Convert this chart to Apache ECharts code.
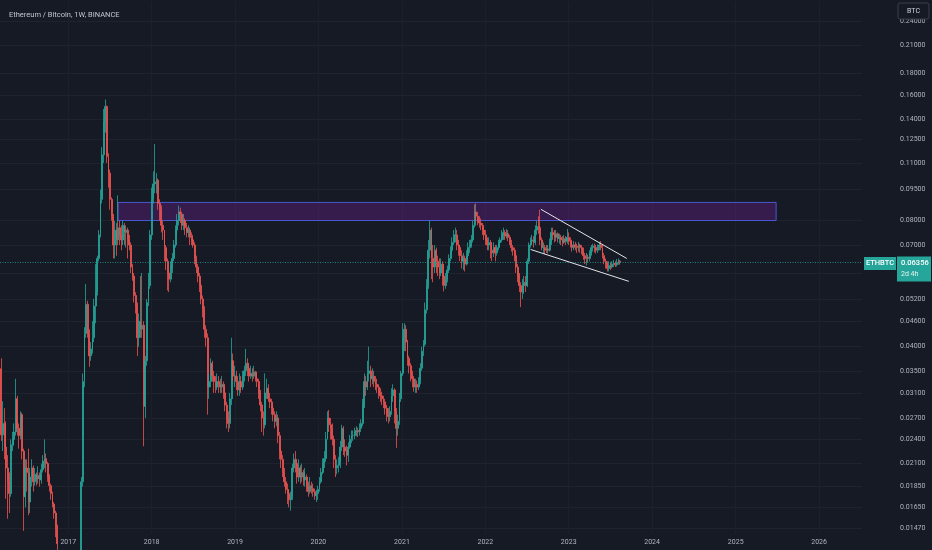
<!DOCTYPE html>
<html><head><meta charset="utf-8">
<script src="https://cdn.jsdelivr.net/npm/echarts@6/dist/echarts.min.js"></script>
<style>html,body{margin:0;padding:0;background:#161a25;}#c{width:932px;height:550px;}</style>
</head><body><div id="c"></div>
<script>
// Weekly ETH/BTC candles, values in units of 0.0001 BTC, first bar week of 2016-03-14
const firstWeek = '2016-03-14';
const firstOpen = 354;
const closes = [
  // 2016
  246,262,230,205,190,178,233,240,250,300, 255,245,275,225,175,205,200,170,195,205,
  190,198,193,197,192,203,213,216,210,195, 186,178,168,160,148,135,130,120,105,95, 88,82,
  // 2017
  100,105,108,110,112,118,125,128,190,330, 430,505,430,380,395,420,500,540,650,740,
  900,1150,1380,1500,1140,1040,900,820,700,760, 720,770,740,720,780,750,760,720,700,620,
  590,530,500,420,460,440,450,288,370,510, 560,740,
  // 2018
  900,980,990,1000,880,850,780,760,690,640, 600,580,620,650,700,760,800,840,830,780,
  800,770,750,760,730,720,700,650,620,590, 560,520,490,440,420,320,330,365,340,330,
  320,330,325,320,325,310,290,270,262,300, 370,340,
  // 2019
  340,330,315,330,320,340,350,365,355,340, 345,340,348,335,330,310,290,270,260,310,
  318,300,295,285,275,265,270,245,225,215, 200,190,182,178,172,175,205,215,210,195,
  205,195,200,192,195,185,180,186,183,180, 176,178,182,
  // 2020
  190,200,210,216,240,270,260,255,240,215, 205,208,210,230,255,230,225,220,230,240,
  245,245,250,252,250,255,262,290,330,320, 345,350,335,340,330,325,320,310,305,300,
  295,285,275,272,280,305,315,280,255,265, 300,345,
  // 2021
  420,440,410,375,360,345,335,320,325,320, 330,355,390,405,490,560,680,760,650,620,
  680,640,620,600,630,590,560,580,610,650, 680,710,740,740,700,690,660,640,650,630,
  660,690,700,720,780,840,820,800,790,780, 760,740,
  // 2022
  720,700,710,680,670,690,670,690,710,720, 740,750,735,745,730,710,690,680,660,620,
  590,560,540,560,570,560,640,700,715,720, 710,760,775,770,720,690,690,680,685,680,
  710,750,740,730,745,725,730,720,710,725, 715,730,
  // 2023
  715,700,690,700,695,690,700,690,680,660, 650,655,650,670,690,695,690,680,690,700,
  690,660,640,630,615,625,620,630,632,628, 635,640,635.6
];
const highs = [
  375,296,285,265,220,200,240,250,262,335, 305,262,280,278,228,215,215,228,205,215,
  208,205,200,207,200,210,220,240,222,212, 198,188,180,170,162,150,140,133,122,108, 98,92,
  104,110,112,114,116,122,130,133,195,345, 445,565,515,440,410,460,520,630,660,760,
  950,1200,1480,1560,1510,1160,1060,910,830,800, 790,920,800,780,800,790,780,770,740,710,
  630,600,540,510,480,590,600,460,380,520, 600,760,
  960,1050,1220,1040,1010,900,870,800,760,700, 650,610,640,670,720,780,830,870,860,840,
  830,810,790,780,770,750,740,710,660,630, 600,570,530,500,450,430,345,375,370,350,
  340,345,340,335,340,330,320,295,280,310, 420,385,
  360,350,340,345,340,350,360,395,375,360, 360,355,360,350,345,335,315,295,280,345,
  335,325,310,300,290,280,280,275,250,230, 220,205,195,188,182,180,210,222,225,212,
  215,208,210,203,205,198,190,195,190,188, 183,182,186,
  195,205,216,225,250,280,282,270,262,245, 220,215,218,238,260,258,240,232,236,246,
  252,252,256,258,256,262,268,300,345,340, 370,400,360,355,350,340,335,325,318,312,
  305,300,290,285,288,318,325,318,285,275, 310,350,
  455,455,450,415,380,365,350,340,335,332, 338,365,400,415,510,580,720,800,770,700,
  700,690,660,650,650,640,600,600,625,665, 695,730,760,770,760,720,700,680,670,660,
  680,710,720,740,800,875,880,840,820,810, 790,770,
  760,730,730,720,700,710,700,700,720,730, 760,770,760,765,760,740,720,700,690,670,
  630,600,570,580,590,590,650,710,730,740, 735,780,800,820,850,730,710,700,700,700,
  725,770,770,760,760,750,745,740,735,740, 735,765,
  750,730,720,715,712,705,712,705,700,690, 670,670,665,680,700,705,705,700,702,712,
  715,700,670,650,640,640,635,640,645,640, 648,650,645
];
const lows = [
  238,225,215,173,155,160,175,225,232,245, 245,228,240,215,145,165,180,158,160,185,
  180,186,186,188,185,188,200,205,200,190, 180,172,165,155,140,128,122,115,100,90, 82,78,
  80,96,102,105,106,110,115,120,126,185, 320,420,420,358,370,385,410,455,530,640,
  730,880,1100,1300,1100,960,850,800,650,650, 660,700,700,680,700,700,690,650,680,600,
  575,510,480,380,400,420,420,231,270,360, 500,550,
  720,880,930,930,850,800,750,720,640,610, 545,540,570,600,640,690,740,780,790,760,
  760,740,730,730,700,700,690,630,600,570, 540,505,470,420,400,275,300,320,330,310,
  310,315,310,310,310,300,280,255,250,255, 290,330,
  320,315,305,305,310,315,330,340,340,330, 335,330,335,330,320,300,280,250,245,255,
  300,295,285,275,265,255,258,235,215,205, 195,185,178,168,165,162,172,200,200,188,
  190,188,190,186,185,180,175,178,178,175, 172,170,172,
  180,188,198,205,212,240,250,240,232,205, 195,198,200,205,225,220,218,208,212,228,
  235,238,240,244,243,245,250,258,285,305, 315,330,320,325,320,315,310,300,295,290,
  285,275,265,262,265,275,295,262,229,245, 260,295,
  340,390,390,360,345,330,320,312,310,310, 315,325,350,380,400,480,550,650,580,570,
  600,600,590,580,590,560,542,550,570,600, 640,670,700,710,680,660,640,615,610,605,
  625,650,670,690,710,770,800,780,770,760, 740,720,
  700,680,680,650,640,655,640,660,680,695, 710,720,720,725,715,700,675,660,640,600,
  570,540,497,520,535,540,555,630,690,700, 690,700,740,745,700,680,670,665,670,668,
  675,700,720,710,715,710,705,700,695,705, 700,705,
  700,690,675,680,680,670,675,670,665,645, 630,625,635,640,660,675,672,668,670,680,
  680,650,630,615,605,605,610,615,620,620, 622,628,628
];
const priceTicks = [0.24,0.21,0.18,0.16,0.14,0.125,0.11,0.095,0.08,0.07,0.06,0.052,0.046,0.04,0.035,0.031,0.027,0.024,0.021,0.0185,0.0165,0.0147];
const yearTicks = ['2017','2018','2019','2020','2021','2022','2023','2024','2025','2026'];
const lastPrice = 0.06356;
const lastLabel = '2d 4h';
const symbolName = 'ETHBTC';
const zoneRange = ['2017-08-07', '2025-06-27'];
const zonePrices = [0.0801, 0.0885];
const wedgeUpper = [['2022-09-01', 0.0852], ['2023-09-12', 0.0650]];
const wedgeLower = [['2022-07-18', 0.0683], ['2023-09-21', 0.0573]];

const DAY = 86400000;
const ts = s => Date.parse(s + (s.length === 4 ? '-01-01' : '') + 'T00:00:00Z');
const t0 = ts(firstWeek);
const candles = closes.map((c, i) => {
  const o = i === 0 ? firstOpen : closes[i - 1];
  const h = Math.max(highs[i], o, c), l = Math.min(lows[i], o, c);
  return [t0 + i * 7 * DAY, o / 1e4, c / 1e4, l / 1e4, h / 1e4];
});
const yearTs = yearTicks.map(ts);
const X_MIN = Date.UTC(2016, 2, 8), X_MAX = Date.UTC(2026, 6, 8);
const FONT = 'Roboto, "Noto Sans", sans-serif';
const TXT = '#b2b5be';
const WHITE_LINE = {color: '#e4e4e8', type: 'solid', width: 1};

const chart = echarts.init(document.getElementById('c'), null, {renderer: 'canvas'});
chart.setOption({
  backgroundColor: '#161a25',
  animation: false,
  title: {text: 'Ethereum / Bitcoin, 1W, BINANCE', left: 4, top: 6,
    textStyle: {color: '#c3c6ce', fontSize: 7.5, fontWeight: 'normal', fontFamily: FONT}},
  grid: {left: 0, right: 70, top: 1.5, bottom: 16.5},
  xAxis: {
    type: 'value', min: X_MIN, max: X_MAX, scale: true,
    axisLine: {show: false},
    axisTick: {show: false, customValues: yearTs},
    axisLabel: {customValues: yearTs, formatter: v => String(new Date(v).getUTCFullYear()),
      color: TXT, fontSize: 7, fontFamily: FONT, margin: 5},
    splitLine: {show: true, lineStyle: {color: '#1c202a', width: 1}}
  },
  yAxis: {
    type: 'log', position: 'right', min: 0.01429, max: 0.2676,
    axisLine: {show: false},
    axisTick: {show: false, customValues: priceTicks},
    axisLabel: {customValues: priceTicks, formatter: v => Number(v).toFixed(5),
      color: TXT, fontSize: 7, fontFamily: FONT, margin: 38},
    splitLine: {show: true, lineStyle: {color: '#1f232d', width: 1}}
  },
  series: [{
    type: 'candlestick', data: candles, encode: {x: 0, y: [1, 2, 3, 4]},
    clip: true, barWidth: 1.4,
    itemStyle: {color: '#26a69a', color0: '#ef5350', borderColor: '#26a69a', borderColor0: '#ef5350', borderWidth: 0.8},
    markArea: {
      silent: true,
      itemStyle: {color: 'rgba(123, 31, 162, 0.32)', borderColor: '#4858d0', borderWidth: 1},
      data: [[{coord: [ts(zoneRange[0]), zonePrices[1]]}, {coord: [ts(zoneRange[1]), zonePrices[0]]}]]
    },
    markLine: {
      silent: true, symbol: 'none', label: {show: false},
      data: [
        [{coord: [X_MIN, lastPrice], lineStyle: {color: 'rgba(38,166,154,0.75)', type: [1, 1.5], width: 1}},
         {coord: [X_MAX, lastPrice]}],
        [{coord: [ts(wedgeUpper[0][0]), wedgeUpper[0][1]], lineStyle: WHITE_LINE},
         {coord: [ts(wedgeUpper[1][0]), wedgeUpper[1][1]]}],
        [{coord: [ts(wedgeLower[0][0]), wedgeLower[0][1]], lineStyle: WHITE_LINE},
         {coord: [ts(wedgeLower[1][0]), wedgeLower[1][1]]}]
      ]
    }
  }]
});

const py = chart.convertToPixel({yAxisIndex: 0}, lastPrice);
chart.setOption({
  graphic: [
    {type: 'rect', z: 100, shape: {x: 898, y: 3, width: 31, height: 16, r: 2},
      style: {fill: '#161a25', stroke: '#3b3f4b', lineWidth: 1}},
    {type: 'text', z: 101, x: 913.5, y: 11, style: {text: 'BTC', fill: '#d1d4dc', font: '7px ' + FONT, align: 'center', verticalAlign: 'middle'}},
    {type: 'rect', z: 100, shape: {x: 864, y: py - 5.5, width: 32, height: 13}, style: {fill: '#26a69a'}},
    {type: 'text', z: 101, x: 880, y: py + 1, style: {text: symbolName, fill: '#ffffff', font: '500 7.5px ' + FONT, align: 'center', verticalAlign: 'middle'}},
    {type: 'rect', z: 100, shape: {x: 897, y: py - 6, width: 34, height: 25}, style: {fill: '#26a69a'}},
    {type: 'text', z: 101, x: 901, y: py + 1, style: {text: lastPrice.toFixed(5), fill: '#ffffff', font: '500 7.5px ' + FONT, align: 'left', verticalAlign: 'middle'}},
    {type: 'text', z: 101, x: 901, y: py + 11.5, style: {text: lastLabel, fill: '#e6f4f2', font: '7px ' + FONT, align: 'left', verticalAlign: 'middle'}}
  ]
});
</script>
</body></html>
